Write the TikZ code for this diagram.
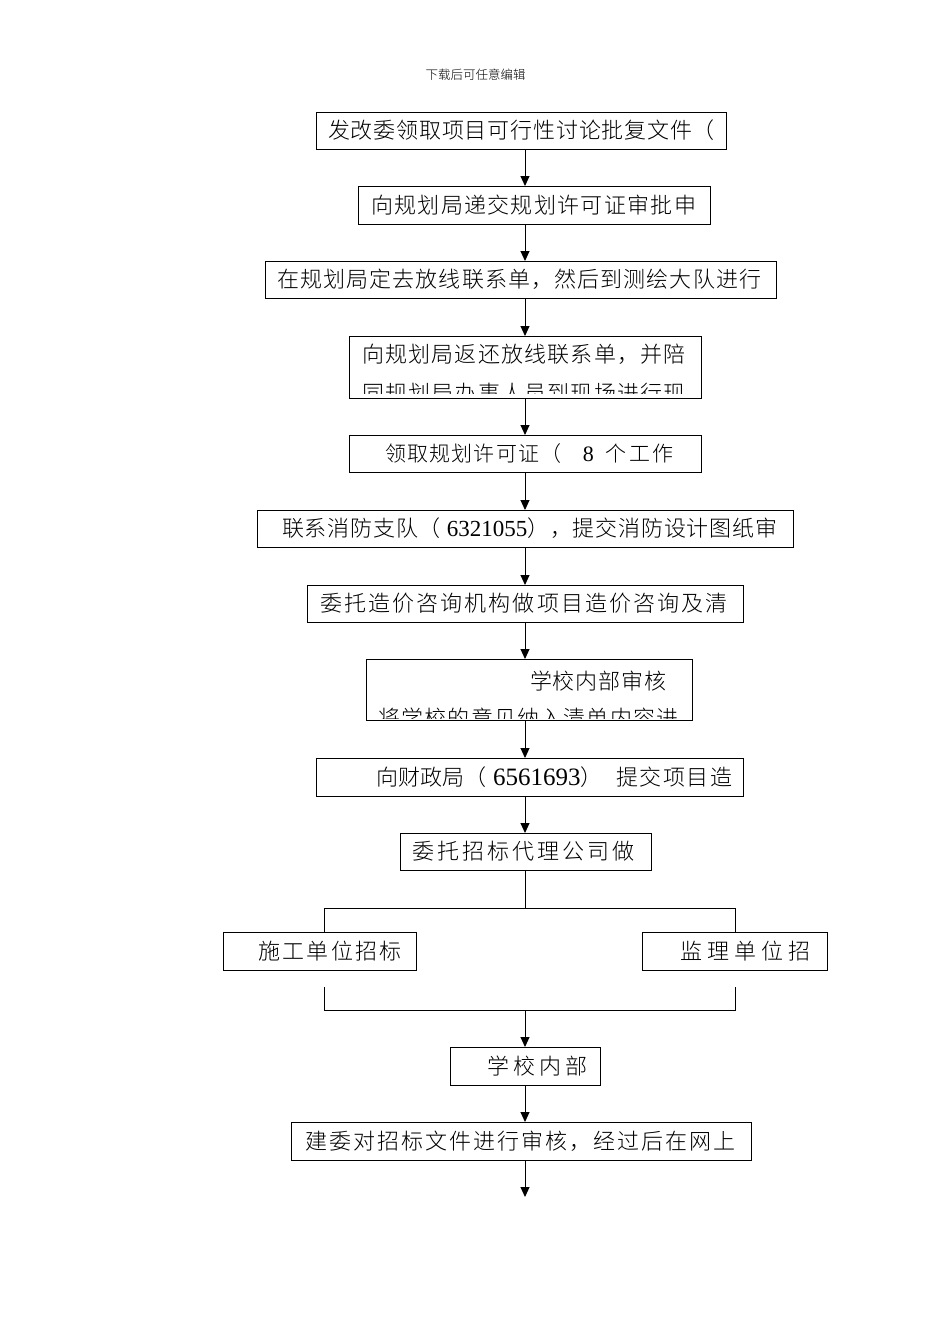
\documentclass[tikz,border=0pt]{standalone}
\usepackage{fontspec}
\setmainfont{Noto Sans CJK SC Light}
\newfontfamily\numfont{Liberation Serif}
\usetikzlibrary{arrows.meta}
\makeatletter
\newcommand\lsp[2]{\def\lsp@g{#1}\@tfor\lsp@c:=#2\do{\lsp@c\hspace{\lsp@g pt}}}
\makeatother
\tikzset{
  box/.style={draw, line width=1.2pt, inner sep=0pt, anchor=north west},
  txt/.style={inner sep=0pt, anchor=west, text height=18.9pt, text depth=2.6pt,
    font=\fontsize{22pt}{26pt}\selectfont},
  arr/.style={line width=1pt, -{Triangle[length=10pt,width=9pt]}},
  ln/.style={line width=1pt},
}
\begin{document}
\begin{tikzpicture}[x=1pt,y=-1pt]
\useasboundingbox[fill=white] (0,0) rectangle (950,1344);
\node[inner sep=0pt, font=\fontsize{12.5pt}{14pt}\selectfont] (hdr) at (475.5,74.5) {下载后可任意编辑};
% boxes
\node[box, minimum width=410pt, minimum height=37pt] (b1) at (316,112) {};
\node[box, minimum width=352pt, minimum height=38pt] (b2) at (358,186) {};
\node[box, minimum width=511pt, minimum height=37pt] (b3) at (265,261) {};
\node[box, minimum width=352pt, minimum height=62pt] (b4) at (349,336) {};
\node[box, minimum width=352pt, minimum height=37pt] (b5) at (349,435) {};
\node[box, minimum width=536pt, minimum height=37pt] (b6) at (257,510) {};
\node[box, minimum width=436pt, minimum height=37pt] (b7) at (307,585) {};
\node[box, minimum width=326pt, minimum height=61pt] (b8) at (366,659) {};
\node[box, minimum width=427pt, minimum height=38pt] (b9) at (316,758) {};
\node[box, minimum width=251pt, minimum height=37pt] (b10) at (400,833) {};
\node[box, minimum width=193pt, minimum height=38pt] (b11l) at (223,932) {};
\node[box, minimum width=185pt, minimum height=38pt] (b11r) at (642,932) {};
\node[box, minimum width=150pt, minimum height=38pt] (b12) at (450,1047) {};
\node[box, minimum width=460pt, minimum height=38pt] (b13) at (291,1122) {};
% texts
\node[txt] (t1) at (328,130.5) {\lsp{0.8}{发改委领取项目可行性讨论批复文件（}};
\node[txt] (t2) at (371,205) {\lsp{1.3}{向规划局递交规划许可证审批申}};
\node[txt] (t3) at (277,279.5) {\lsp{1.1}{在规划局定去放线联系单，然后到测绘大队进行}};
\node[txt] (t4a) at (362,354) {\lsp{1.2}{向规划局返还放线联系单，并陪}};
\begin{scope}
\clip (b4.north west) rectangle ([yshift=6pt]b4.south east);
\node[txt] (t4b) at (362,393) {\lsp{1.2}{同规划局办事人员到现场进行现}};
\end{scope}
\node[txt, font=\fontsize{21pt}{26pt}\selectfont] (t5) at (385,453.5) {\lsp{1.2}{领取规划许可证（}\hspace{20pt}{\numfont\fontsize{22pt}{26pt}\selectfont 8}\hspace{12pt}\lsp{2.5}{个工作}};
\node[txt] (t6) at (282,528.5) {\lsp{0.8}{联系消防支队（}\hspace{5pt}{\numfont\fontsize{23pt}{26pt}\selectfont 6321055}\lsp{0.8}{），}\lsp{0.8}{提交消防设计图纸审}};
\node[txt] (t7) at (320,603.5) {\lsp{2.1}{委托造价咨询机构做项目造价咨询及清}};
\node[txt] (t8a) at (530,681) {\lsp{0.8}{学校内部审核}};
\begin{scope}
\clip (b8.north west) rectangle ([yshift=3pt]b8.south east);
\node[txt] (t8b) at (378,718) {\lsp{1.2}{将学校的意见纳入清单内容进}};
\end{scope}
\node[txt] (t9) at (376,777) {\lsp{0.2}{向财政局（}\hspace{6pt}{\numfont\fontsize{25pt}{26pt}\selectfont 6561693}\lsp{0.5}{）}\hspace{13pt}\lsp{1.6}{提交项目造}};
\node[txt] (t10) at (412,851.5) {\lsp{3}{委托招标代理公司做}};
\node[txt] (t11l) at (258,951) {\lsp{2.3}{施工单位招标}};
\node[txt] (t11r) at (680,951) {\lsp{5.2}{监理单位招}};
\node[txt] (t12) at (487,1066) {\lsp{4}{学校内部}};
\node[txt] (t13) at (305,1141) {\lsp{2}{建委对招标文件进行审核，经过后在网上}};
% connector guides
\coordinate (ax) at (525,0);
\coordinate (lx) at (324,0);
\coordinate (rx) at (735,0);
\coordinate (split) at (525,908);
\coordinate (ll) at (324,987);
\coordinate (rl) at (735,987);
\coordinate (join) at (525,1010);
\coordinate (fin) at (525,1197);
% connectors
\draw[arr] (b1.south -| ax) -- (b2.north -| ax);
\draw[arr] (b2.south -| ax) -- (b3.north -| ax);
\draw[arr] (b3.south -| ax) -- (b4.north -| ax);
\draw[arr] (b4.south -| ax) -- (b5.north -| ax);
\draw[arr] (b5.south -| ax) -- (b6.north -| ax);
\draw[arr] (b6.south -| ax) -- (b7.north -| ax);
\draw[arr] (b7.south -| ax) -- (b8.north -| ax);
\draw[arr] (b8.south -| ax) -- (b9.north -| ax);
\draw[arr] (b9.south -| ax) -- (b10.north -| ax);
\draw[ln] (b10.south -| ax) -- (split);
\draw[ln] (b11l.north -| lx) -- (lx |- split) -- (rx |- split) -- (b11r.north -| rx);
\draw[ln] (ll) -- (ll |- join) -- (rl |- join) -- (rl);
\draw[arr] (join) -- (b12.north -| ax);
\draw[arr] (b12.south -| ax) -- (b13.north -| ax);
\draw[arr] (b13.south -| ax) -- (fin);
\end{tikzpicture}
\end{document}
